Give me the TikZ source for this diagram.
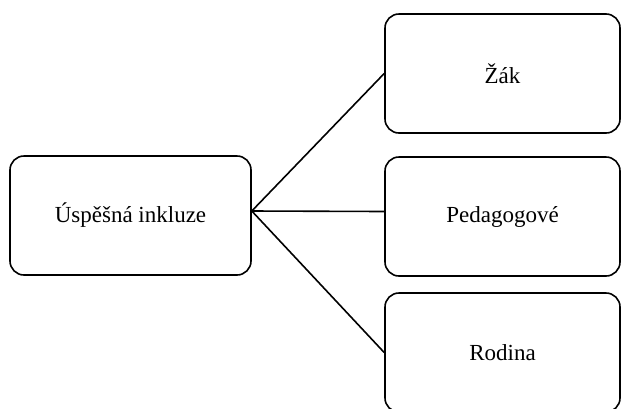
\documentclass[tikz,border=0pt]{standalone}
\usepackage{fontspec}
\setmainfont{Liberation Serif}
\usepackage{tikz}
\usetikzlibrary{positioning}
\tikzset{
    mainbox/.style={rectangle, rounded corners=14pt, minimum width=241pt, minimum height=119pt, align=center, draw=black, line width=1.6pt, font=\fontsize{23}{27}\selectfont},
    partbox/.style={rectangle, rounded corners=14pt, minimum width=235pt, minimum height=119pt, align=center, draw=black, line width=1.6pt, font=\fontsize{23}{27}\selectfont},
    link/.style={line width=1.6pt}
}
\begin{document}
\begin{tikzpicture}[x=1pt, y=-1pt]
    \useasboundingbox (0, 0) rectangle (621, 408);

    \node (incl) [mainbox] at (130.5, 215.5) {Úspěšná inkluze};

    \node (zak) [partbox] at (502.5, 73.5) {Žák};
    \node (ped) [partbox] at (502.5, 216.5) {Pedagogové};
    \node (rod) [partbox] at (502.5, 352.5) {Rodina};

    \draw [link] ([yshift=4.5pt]incl.east) -- (zak.west);
    \draw [link] ([yshift=4.5pt]incl.east) -- ([yshift=5pt]ped.west);
    \draw [link] ([yshift=4.5pt]incl.east) -- (rod.west);
\end{tikzpicture}
\end{document}
